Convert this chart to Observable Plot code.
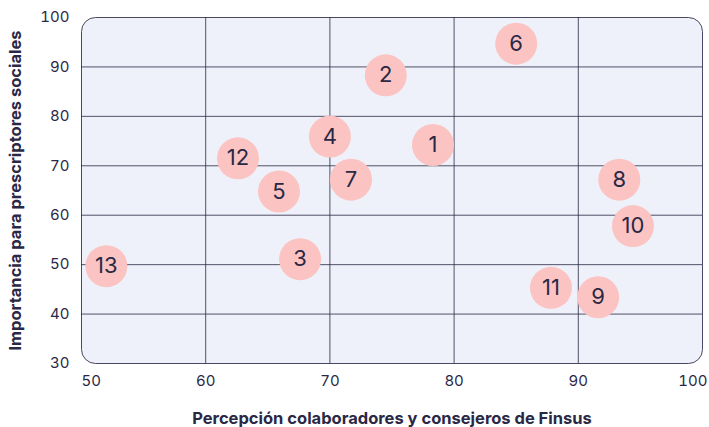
<!DOCTYPE html>
<html>
<head>
<meta charset="utf-8">
<script src="https://cdn.jsdelivr.net/npm/d3@7"></script>
<script src="https://cdn.jsdelivr.net/npm/@observablehq/plot@0.6"></script>
<style>
  html, body { margin: 0; padding: 0; background: #ffffff; }
  #chart svg { font-family: "Inter", "Open Sans", sans-serif; }
  g[aria-label="x-axis label"], g[aria-label="y-axis label"] { font-weight: 700; font-size: 16.5px; }
</style>
</head>
<body>
<div id="chart"></div>
<script>
const ids = ["1","2","3","4","5","6","7","8","9","10","11","12","13"];
const xValues = [78.3, 74.5, 67.6, 70.0, 65.9, 85.0, 71.7, 93.3, 91.6, 94.4, 87.8, 62.6, 52.0];
const yValues = [74.2, 88.3, 51.1, 75.9, 64.8, 94.7, 67.2, 67.2, 43.4, 57.8, 45.3, 71.5, 49.7];
const xTicks = [50, 60, 70, 80, 90, 100];
const yTicks = [30, 40, 50, 60, 70, 80, 90, 100];
const xTitle = "Percepción colaboradores y consejeros de Finsus";
const yTitle = "Importancia para prescriptores sociales";

const data = ids.map((id, i) => ({id, x: xValues[i], y: yValues[i]}));
const ink = "#2a2845";

const chart = Plot.plot({
  width: 709,
  height: 427,
  marginLeft: 81,
  marginRight: 7,
  marginTop: 17,
  marginBottom: 64,
  style: {fontFamily: "Inter, sans-serif", color: ink, background: "#ffffff"},
  x: {domain: [50, 100]},
  y: {domain: [30, 100]},
  marks: [
    Plot.frame({fill: "#eef1f9", rx: 14}),
    Plot.gridX({ticks: xTicks.slice(1, -1), stroke: ink, strokeOpacity: 0.8, strokeWidth: 1}),
    Plot.gridY({ticks: yTicks.slice(1, -1), stroke: ink, strokeOpacity: 0.8, strokeWidth: 1}),
    Plot.frame({stroke: ink, strokeOpacity: 0.85, rx: 14}),
    Plot.axisX({ticks: xTicks.slice(1, -1), tickSize: 0, tickPadding: 12, fontSize: 15, color: ink,
      label: xTitle, labelAnchor: "center", labelOffset: 60, labelArrow: false}),
    Plot.axisX({ticks: [xTicks[0]], tickSize: 0, tickPadding: 12, fontSize: 15, color: ink, textAnchor: "start", label: null}),
    Plot.axisX({ticks: [xTicks[xTicks.length - 1]], tickSize: 0, tickPadding: 12, fontSize: 15, color: ink, textAnchor: "end", dx: 5, label: null}),
    Plot.axisY({ticks: yTicks, tickSize: 0, tickPadding: 12, fontSize: 15, color: ink,
      label: yTitle, labelAnchor: "center", labelOffset: 72, labelArrow: false}),
    Plot.dot(data, {x: "x", y: "y", r: 21, fill: "#fbc4c2", stroke: "none"}),
    Plot.text(data, {x: "x", y: "y", text: "id", fontSize: 22, fill: ink})
  ]
});
document.getElementById("chart").append(chart);
</script>
</body>
</html>
